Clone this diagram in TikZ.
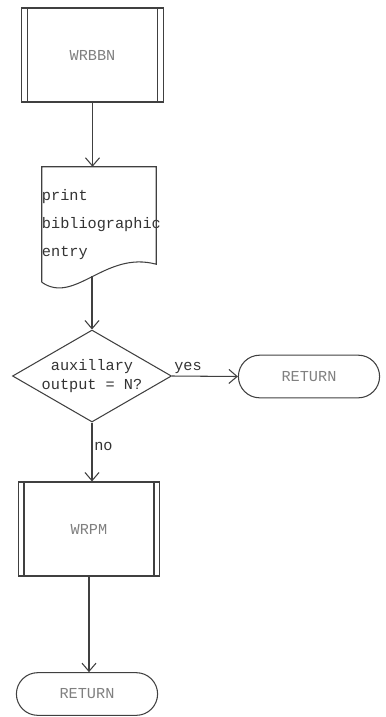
\documentclass[tikz,border=0pt]{standalone}
\usepackage{fontspec}
\newfontfamily\typefont{Liberation Mono}
\usetikzlibrary{arrows.meta,shapes.geometric,shapes.misc}

\begin{document}
\begin{tikzpicture}[
        x=0.03cm,
        y=-0.03cm,
        every node/.style={font=\typefont\fontsize{13}{16}\selectfont, text=black!80},
        line/.style={draw=black!75, line width=0.9pt},
        flow/.style={line, -{Straight Barb[length=7pt,width=12pt]}},
        subproc/.style={line, minimum width=4.24cm, minimum height=2.82cm, text=black!50,
            path picture={
                \draw[line] ([xshift=0.17cm]path picture bounding box.north west) -- ([xshift=0.17cm]path picture bounding box.south west);
                \draw[line] ([xshift=-0.17cm]path picture bounding box.north east) -- ([xshift=-0.17cm]path picture bounding box.south east);
            }},
        docbox/.style={inner sep=0pt, text width=3.42cm, minimum height=3.45cm, align=left,
            font=\typefont\fontsize{13}{24}\selectfont},
        decision/.style={line, diamond, inner sep=0pt, minimum width=4.77cm, minimum height=2.76cm},
        termbox/.style={line, rounded rectangle, minimum width=4.47cm, minimum height=1.28cm, text=black!50},
        lbl/.style={inner sep=1.5pt}
    ]
        \useasboundingbox (0,0) rectangle (385,717);

        % Blocks
        \node[subproc] (wrbbn) at (92.5,55){WRBBN};
        \node[docbox] (prt) at (99,224.5){print\\bibliographic\\entry};
        \draw[line] (prt.south west) -- (prt.north west) -- (prt.north east)
            -- ([yshift=0.54cm]prt.south east) .. controls +(-51,-14) and +(33,23) .. (prt.south west);
        \node[decision] (aux) at (92,376){};
        \node[align=center, inner sep=0pt] (auxtxt) at (aux){auxillary\\output = N?};
        \node[termbox] (ret1) at (309,376.5){RETURN};
        \node[subproc] (wrpm) at (89,529){WRPM};
        \node[termbox] (ret2) at (87,694){RETURN};

        % Connectors
        \draw[flow] (wrbbn.south) -- (wrbbn.south |- prt.north);
        \draw[flow] ([yshift=0.18cm]prt.south -| aux.north) -- (aux.north);
        \draw[flow] (aux.east) -- node[lbl, pos=0, above right] (yes){yes} (ret1.west);
        \draw[flow] (aux.south) -- node[lbl, pos=0.4, right] (no){no} (aux.south |- wrpm.north);
        \draw[flow] (wrpm.south) -- (wrpm.south |- ret2.north);
    \end{tikzpicture}
\end{document}
